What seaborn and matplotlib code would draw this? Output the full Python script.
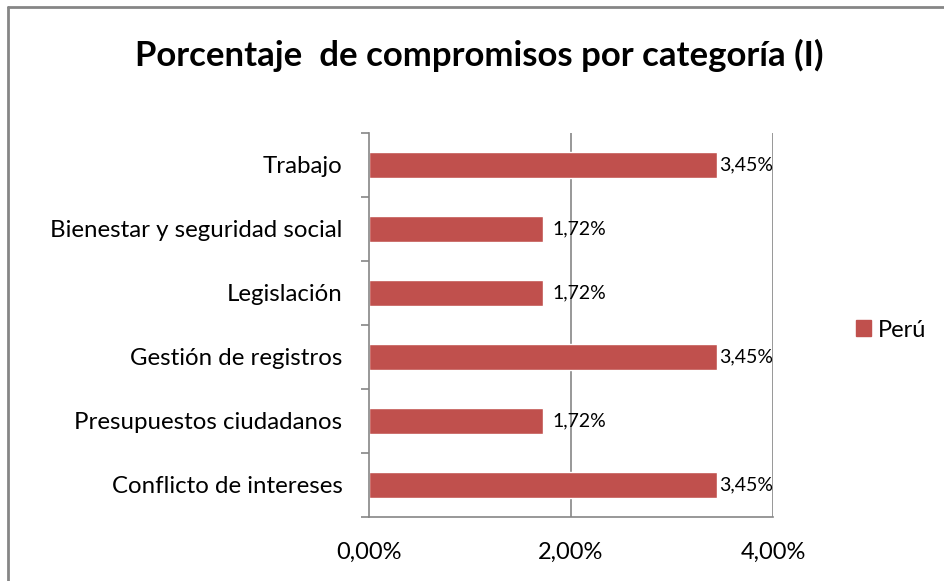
import numpy as np
import matplotlib
matplotlib.use('Agg')
import matplotlib.pyplot as plt
import seaborn as sns
from matplotlib.patches import Patch
from matplotlib.lines import Line2D

# ==========================================================
# DATA
# ==========================================================
categories = [
    "Trabajo",
    "Bienestar y seguridad social",
    "Legislación",
    "Gestión de registros",
    "Presupuestos ciudadanos",
    "Conflicto de intereses",
]
values = [3.45, 1.72, 1.72, 3.45, 1.72, 3.45]
labels = ["3,45%", "1,72%", "1,72%", "3,45%", "1,72%", "3,45%"]
xticks = [0, 2, 4]
xtick_labels = ["0,00%", "2,00%", "4,00%"]
series_name = "Perú"
title = "Porcentaje  de compromisos por categoría (I)"

# ==========================================================
# STYLE
# ==========================================================
sns.set_style("white")
plt.rcParams['font.family'] = ['Lato', 'DejaVu Sans']
plt.rcParams['text.color'] = 'black'
plt.rcParams['xtick.color'] = 'black'
plt.rcParams['ytick.color'] = 'black'
BAR_COLOR = "#C0504D"
AXIS_COLOR = "#868686"

fig = plt.figure(figsize=(9.44, 5.81), dpi=100)
ax = fig.add_axes([0.3909, 0.1102, 0.428, 0.6609])

sns.barplot(x=values, y=categories, color=BAR_COLOR, width=0.4,
            orient="h", ax=ax, saturation=1)

ax.set_xlim(0, 4)
ax.set_ylim(len(categories) - 0.5, -0.5)
ax.set_xticks(xticks)
ax.set_xticklabels(xtick_labels, fontsize=17)
ax.set_xlabel("")
ax.set_ylabel("")
ax.tick_params(axis="x", length=6, color=AXIS_COLOR, labelcolor="black", width=1.2, pad=12)

# category labels at centers without tick marks, ticks at boundaries
ax.set_yticks(range(len(categories)))
ax.set_yticklabels(categories, fontsize=17.3)
ax.tick_params(axis="y", which="major", length=0, pad=19, labelcolor="black")
ax.set_yticks(np.arange(-0.5, len(categories), 1), minor=True)
ax.tick_params(axis="y", which="minor", length=6, color=AXIS_COLOR, width=1.2, left=True)

for s in ["top", "right"]:
    ax.spines[s].set_visible(False)
for s in ["left", "bottom"]:
    ax.spines[s].set_color(AXIS_COLOR)
    ax.spines[s].set_linewidth(1.2)

ax.grid(False)
for x in xticks[1:]:
    ax.axvline(x, color=AXIS_COLOR, linewidth=1.2, zorder=0)

# data labels
label_w = 0.54
for i, (v, lab) in enumerate(zip(values, labels)):
    x = v + 0.1
    if x + label_w > 4:
        ax.text(4.0, i, lab, ha="right", va="center", fontsize=14)
    else:
        ax.text(x, i, lab, ha="left", va="center", fontsize=14)

fig.text(0.508, 0.905, title, ha="center", va="center",
         fontsize=25, fontweight="bold")

fig.legend(handles=[Patch(color=BAR_COLOR, label=series_name)],
           loc="center left", bbox_to_anchor=(0.884, 0.432), frameon=False,
           fontsize=17, handlelength=0.65, handleheight=0.65, handletextpad=0.3)

# outer chart frame (top and left visible)
fig.add_artist(Line2D([0.0085, 1.0], [0.9875, 0.9875], transform=fig.transFigure,
                      color=AXIS_COLOR, linewidth=2))
fig.add_artist(Line2D([0.0085, 0.0085], [0.0, 0.9875], transform=fig.transFigure,
                      color=AXIS_COLOR, linewidth=2))

fig.savefig("out.png", dpi=100)
